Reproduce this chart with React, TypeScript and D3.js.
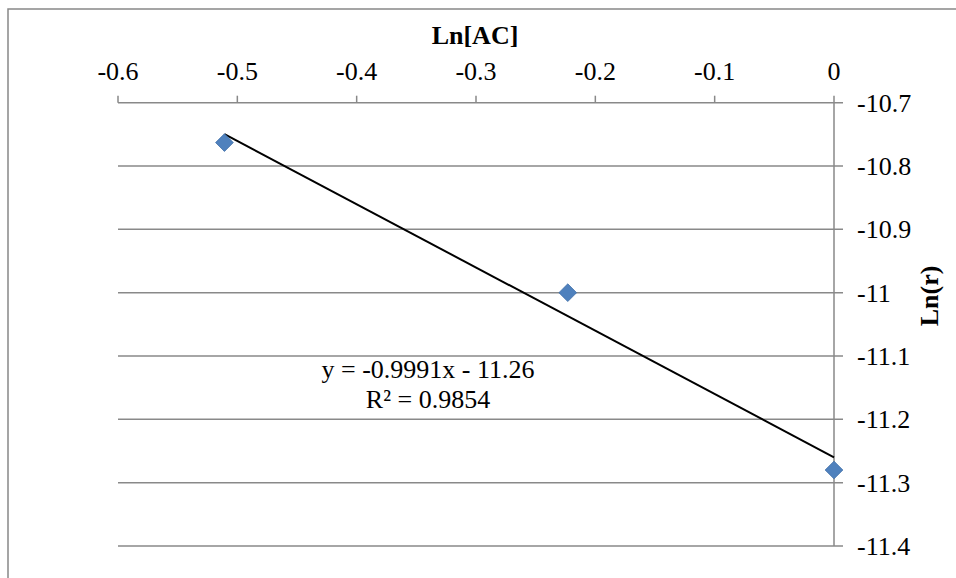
import * as d3 from "d3";

// Ln[AC] vs Ln(r) data points
const lnAC = [-0.5108, -0.2231, 0];
const lnR = [-10.763, -11.0, -11.28];

const xTicks = [-0.6, -0.5, -0.4, -0.3, -0.2, -0.1, 0];
const yTicks = [-10.7, -10.8, -10.9, -11, -11.1, -11.2, -11.3, -11.4];

const slope = -0.9991;
const intercept = -11.26;
const rSquared = 0.9854;

export default function App() {
  const width = 956;
  const height = 578;
  const left = 118;
  const right = 834;
  const top = 102.7;
  const bottom = 546;
  const font = "'Liberation Serif', 'Times New Roman', serif";

  const x = d3.scaleLinear([-0.6, 0], [left, right]);
  const y = d3.scaleLinear([-11.4, -10.7], [bottom, top]);

  const x0 = d3.min(lnAC)!;
  const x1 = d3.max(lnAC)!;
  const trend = d3.line<number>((d) => x(d), (d) => y(slope * d + intercept));

  const diamond = d3.symbol(d3.symbolDiamond2, 200)()!;

  return (
    <svg
      width={width}
      height={height}
      style={{ position: "absolute", left: 0, top: 0, background: "#fff" }}
    >
      <rect x={8} y={9} width={width + 20} height={height + 20} fill="#fff" stroke="#888" strokeWidth={1.5} />

      {/* horizontal gridlines + right ticks */}
      <g stroke="#898989" strokeWidth={1.5}>
        {yTicks.map((t) => (
          <line key={t} x1={left} x2={right + 9} y1={y(t)} y2={y(t)} />
        ))}
        <line x1={right} x2={right} y1={top} y2={bottom} />
        {xTicks.map((t) => (
          <line key={t} x1={x(t)} x2={x(t)} y1={top} y2={top - 7} />
        ))}
      </g>

      {/* trendline */}
      <path d={trend([x0, x1])!} fill="none" stroke="#000" strokeWidth={2} />

      {/* points */}
      <g fill="#4F81BD" stroke="#3f6ea8" strokeWidth={0.8}>
        {lnAC.map((d, i) => (
          <path key={i} d={diamond} transform={`translate(${x(d)},${y(lnR[i])})`} />
        ))}
      </g>

      <g fontFamily={font} fontSize={26} fill="#000">
        {xTicks.map((t) => (
          <text key={t} x={x(t)} y={80} textAnchor="middle">
            {t === 0 ? "0" : String(t)}
          </text>
        ))}
        {yTicks.map((t) => (
          <text key={t} x={857} y={y(t) + 9}>
            {String(t)}
          </text>
        ))}
        <text x={475} y={44} textAnchor="middle" fontWeight="bold">
          Ln[AC]
        </text>
        <text
          transform={`translate(938,296) rotate(-90)`}
          textAnchor="middle"
          fontWeight="bold"
        >
          Ln(r)
        </text>
        <text x={428} y={378} textAnchor="middle">
          {`y = ${slope}x - ${Math.abs(intercept)}`}
        </text>
        <text x={428} y={408} textAnchor="middle">
          {`R² = ${rSquared}`}
        </text>
      </g>
    </svg>
  );
}
